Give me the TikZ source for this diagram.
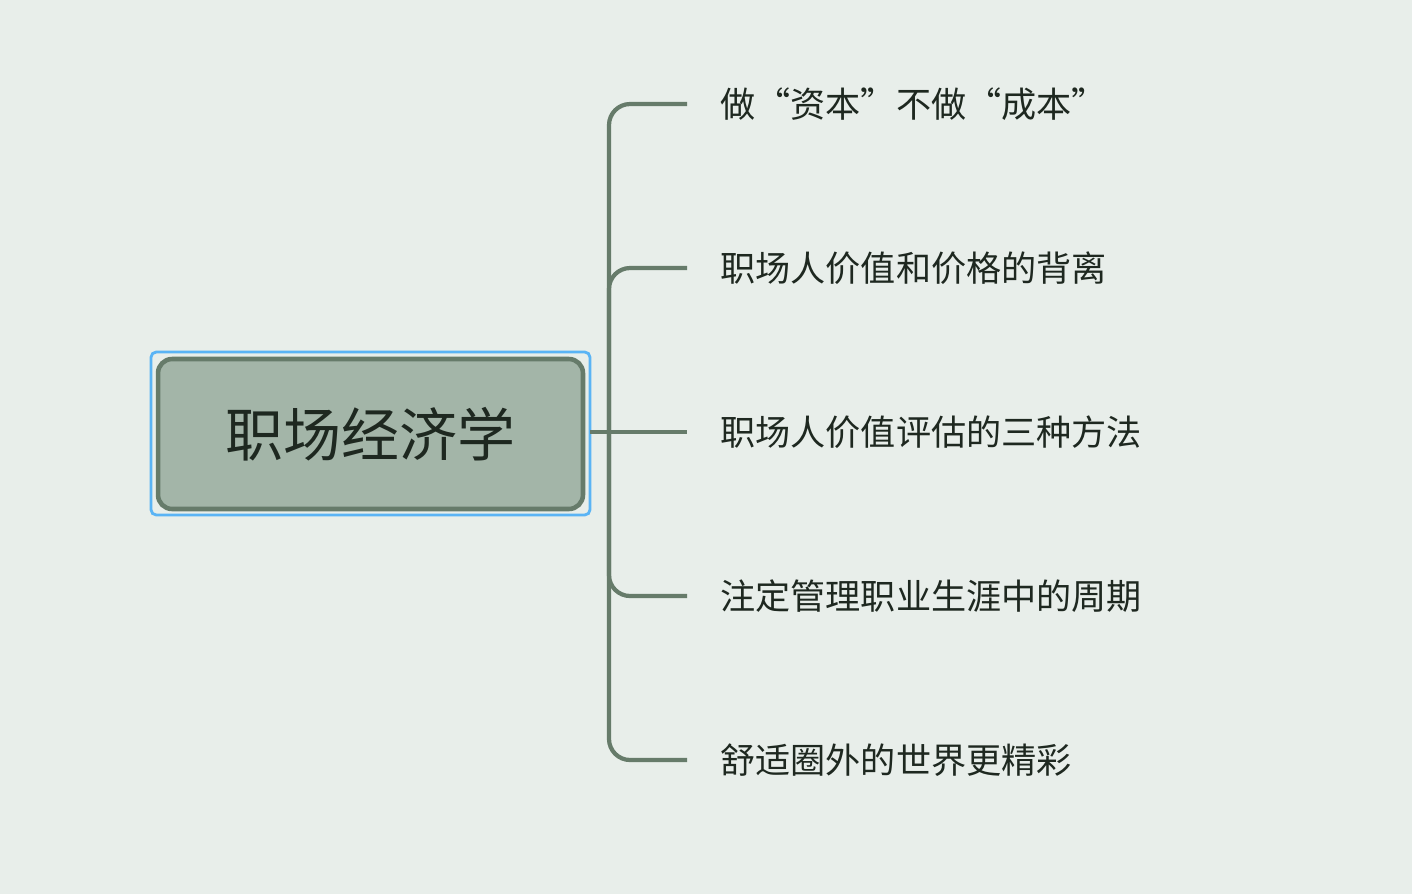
\documentclass[tikz,border=0pt]{standalone}
\usepackage{fontspec}
\newfontfamily\cjk{Noto Sans CJK SC}
\definecolor{bgcolor}{RGB}{232, 238, 234}
\definecolor{mapgreen}{RGB}{102, 123, 106}
\definecolor{rootfill}{RGB}{163, 181, 168}
\definecolor{selblue}{RGB}{90, 180, 245}
\definecolor{textdark}{RGB}{30, 40, 32}
\usetikzlibrary{positioning, calc}
\tikzset{
    rootbox/.style={rectangle, rounded corners=8pt, draw=mapgreen, fill=rootfill,
                    line width=2.6pt, minimum width=8.5cm, minimum height=3cm,
                    font=\cjk\fontsize{33}{40}\selectfont, text=textdark},
    leaf/.style={anchor=west, inner sep=0pt, font=\cjk\fontsize{20}{24}\selectfont, text=textdark},
    branch/.style={line width=2.4pt, mapgreen, rounded corners=12pt},
}
\begin{document}
\begin{tikzpicture}[x=0.02cm, y=-0.02cm]
    % Background
    \fill[bgcolor] (0,0) rectangle (1412,894);
    \useasboundingbox (0,0) rectangle (1412,894);

    % Root with selection frame
    \draw[selblue, line width=1.6pt, rounded corners=3pt] (151,352) rectangle (590,515);
    \node[rootbox] (root) at (370.5,434) {职场经济学};

    % Topics
    \node[leaf] (t1) at (720,104) {做“资本”不做“成本”};
    \node[leaf] (t2) at (720,268) {职场人价值和价格的背离};
    \node[leaf] (t3) at (720,432) {职场人价值评估的三种方法};
    \node[leaf] (t4) at (720,596) {注定管理职业生涯中的周期};
    \node[leaf] (t5) at (720,760) {舒适圈外的世界更精彩};

    % Connectors
    \coordinate (hub) at (609,432);
    \draw[branch] (590,432) -- ($(t3.west)+(-33,0)$);
    \foreach \t in {t1, t2, t4, t5}
        \draw[branch] (hub) -- (hub |- \t.west) -- ($(\t.west)+(-33,0)$);
\end{tikzpicture}
\end{document}
